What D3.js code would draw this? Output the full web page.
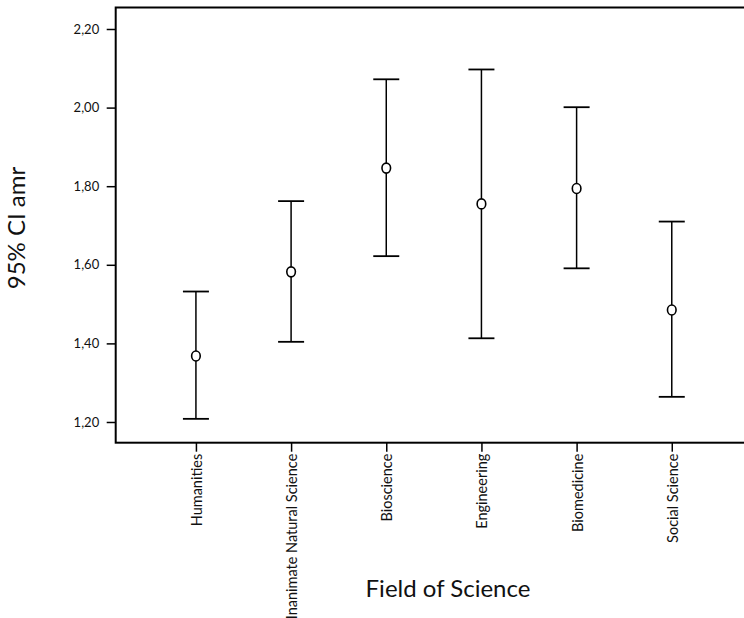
<!DOCTYPE html>
<html>
<head>
<meta charset="utf-8">
<script src="https://cdn.jsdelivr.net/npm/d3@7"></script>
<style>
  body { margin: 0; background: #fff; }
  svg { display: block; font-family: Lato, "Open Sans", sans-serif; }
</style>
</head>
<body>
<script>
// data
const categories = ["Humanities", "Inanimate Natural Science", "Bioscience", "Engineering", "Biomedicine", "Social Science"];
const means = [1.368, 1.582, 1.846, 1.755, 1.794, 1.485];
const lower = [1.208, 1.404, 1.622, 1.413, 1.591, 1.264];
const upper = [1.532, 1.762, 2.072, 2.097, 2.001, 1.710];
const yTicks = [1.2, 1.4, 1.6, 1.8, 2.0, 2.2];

const width = 744;
const height = 618;
const plotLeft = 115.7, plotRight = 752, plotTop = 7.5, plotBottom = 442.7;

const svg = d3.create("svg").attr("width", width).attr("height", height);
const g = svg.append("g");

const x = d3.scalePoint().domain(categories).range([plotLeft, plotRight]).padding(0.843);
const y = d3.scaleLinear().domain([1.1473, 2.2547]).range([plotBottom, plotTop]);

const fmt = d => d3.format(".2f")(d).replace(".", ",");

// frame
g.append("rect")
  .attr("x", plotLeft).attr("y", plotTop)
  .attr("width", plotRight - plotLeft).attr("height", plotBottom - plotTop)
  .style("fill", "none").style("stroke", "#000").style("stroke-width", 2);

// y axis
const yAxis = g.append("g")
  .attr("transform", `translate(${plotLeft},0)`)
  .call(d3.axisLeft(y).tickValues(yTicks).tickFormat(fmt).tickSize(9).tickPadding(7.5));
yAxis.attr("font-family", null).attr("font-size", null);
yAxis.select(".domain").remove();
yAxis.selectAll("line").style("stroke-width", 1.5);
yAxis.selectAll("text").style("font-size", "13px").style("fill", "#111");

// x axis
const xAxis = g.append("g")
  .attr("transform", `translate(0,${plotBottom})`)
  .call(d3.axisBottom(x).tickSize(9).tickPadding(0));
xAxis.attr("font-family", null).attr("font-size", null);
xAxis.select(".domain").remove();
xAxis.selectAll("line").style("stroke-width", 1.5);
xAxis.selectAll("text")
  .style("font-size", "14.5px").style("fill", "#111")
  .attr("text-anchor", "end")
  .attr("dy", null).attr("y", null)
  .attr("transform", "translate(5.5,11) rotate(-90)");

// error bars
categories.forEach((c, i) => {
  const cx = x(c);
  g.append("line")
    .attr("x1", cx).attr("x2", cx)
    .attr("y1", y(lower[i])).attr("y2", y(upper[i]))
    .style("stroke", "#000").style("stroke-width", 1.5);
  [lower[i], upper[i]].forEach(v => {
    g.append("line")
      .attr("x1", cx - 13).attr("x2", cx + 13)
      .attr("y1", y(v)).attr("y2", y(v))
      .style("stroke", "#000").style("stroke-width", 1.8);
  });
  g.append("ellipse")
    .attr("cx", cx).attr("cy", y(means[i]))
    .attr("rx", 4.3).attr("ry", 5)
    .style("fill", "#fff").style("stroke", "#000").style("stroke-width", 1.6);
});

// axis titles
g.append("text")
  .attr("transform", "translate(25,228) rotate(-90)")
  .attr("text-anchor", "middle")
  .style("font-size", "24px").style("fill", "#111")
  .text("95% CI amr");

g.append("text")
  .attr("x", 448).attr("y", 597)
  .attr("text-anchor", "middle")
  .style("font-size", "24px").style("fill", "#111")
  .text("Field of Science");

d3.select("body").append(() => svg.node());
</script>
</body>
</html>
